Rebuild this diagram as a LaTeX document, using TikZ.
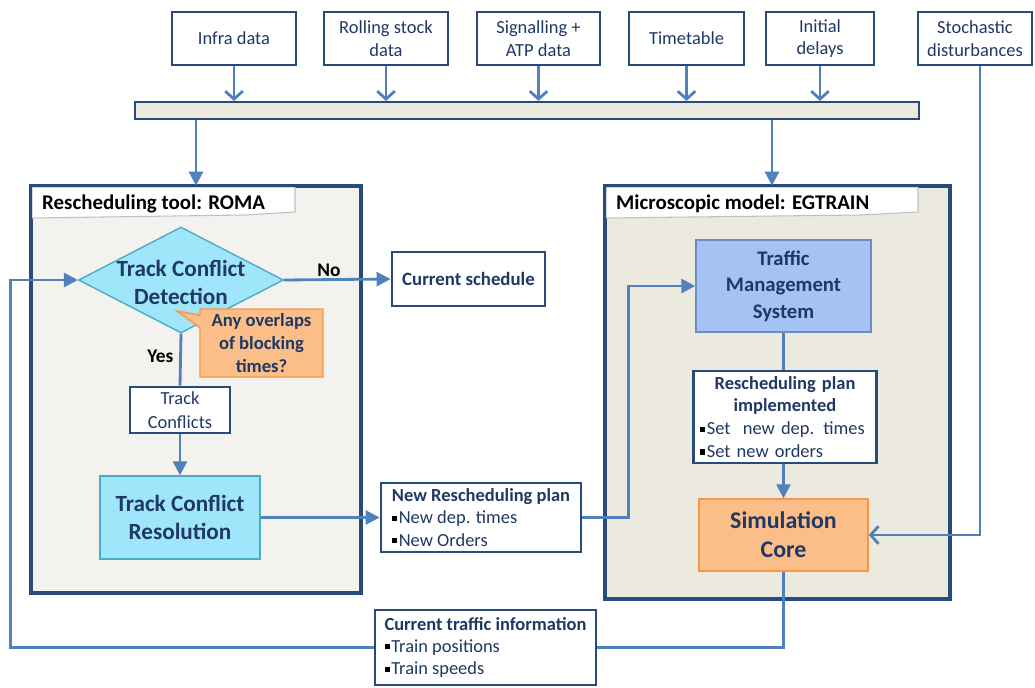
\documentclass[tikz,border=0pt]{standalone}
\usepackage{fontspec}
\setmainfont{Carlito}
\usepackage{tikz}
\usetikzlibrary{arrows.meta,shapes.geometric,shapes.callouts}
\definecolor{framecol}{HTML}{274B7A}
\definecolor{linecol}{HTML}{4F81BD}
\definecolor{textcol}{HTML}{1F3864}
\definecolor{cyanfill}{HTML}{A0E6FA}
\definecolor{cyanline}{HTML}{4BACC6}
\definecolor{bluefill}{HTML}{A4C2F4}
\definecolor{blueline}{HTML}{6C8EBF}
\definecolor{orangefill}{HTML}{FBBE88}
\definecolor{orangeline}{HTML}{F79646}
\definecolor{romafill}{HTML}{F3F2EE}
\definecolor{egtfill}{HTML}{ECE9DF}
\newcommand{\blt}{\raisebox{0.35ex}{\textcolor{black}{\rule{2.9pt}{2.9pt}}}\hspace{1pt}}

\begin{document}
\begin{tikzpicture}[x=0.02cm,y=-0.02cm,
  data box/.style={draw=framecol,line width=1.6pt,fill=white,text=textcol,align=center,inner sep=0pt,font=\fontsize{10.5}{13}\selectfont},
  info box/.style={data box,align=left},
  frame/.style={draw=framecol,line width=1.6pt},
  tab/.style={fill=white,draw=gray!50,line width=0.6pt},
  big text/.style={text=textcol,align=center,inner sep=0pt,font=\bfseries\fontsize{13.2}{16.4}\selectfont},
  label/.style={font=\bfseries\fontsize{11}{13}\selectfont},
  flow/.style={draw=linecol,line width=1.6pt,-{Triangle[length=8pt,width=8pt]}},
  feed/.style={draw=linecol,line width=1.6pt,-{Straight Barb[length=4.5pt,width=10pt]}},
  line/.style={draw=linecol,line width=1.6pt}]

  \useasboundingbox (0,0) rectangle (1035,687);

  % input data
  \node[data box,minimum width=2.48cm,minimum height=1.06cm] (infra) at (234,38.5) {Infra data};
  \node[data box,minimum width=2.48cm,minimum height=1.06cm] (rolling) at (386,38.5) {Rolling stock\\data};
  \node[data box,minimum width=2.46cm,minimum height=1.06cm] (signal) at (538.5,38.5) {Signalling +\\ATP data};
  \node[data box,minimum width=2.30cm,minimum height=1.06cm] (timetab) at (686.5,38.5) {Timetable};
  \node[data box,minimum width=2.16cm,minimum height=1.06cm] (delays) at (820,38.5) {Initial\\delays};
  \node[data box,minimum width=2.28cm,minimum height=1.06cm] (stoch) at (975,38.5) {Stochastic\\disturbances};
  \node[draw=framecol,line width=1.2pt,fill=egtfill,minimum width=15.68cm,minimum height=0.34cm,inner sep=0pt] (bar) at (527,110.5) {};

  % ROMA
  \node[frame,fill=romafill,minimum width=6.56cm,minimum height=8.1cm,inner sep=0pt] (roma) at (196,389.5) {};
  \draw[tab] (32,187) -- (295,187) -- (295,212) -- (245,215) -- (32,218) -- cycle;
  \draw[frame] (roma.north west) rectangle (roma.south east);
  \node[label,anchor=west,font=\bfseries\fontsize{11.9}{13}\selectfont] (romatitle) at (36,204) {Rescheduling tool: ROMA};

  % EGTRAIN
  \node[frame,fill=egtfill,minimum width=6.86cm,minimum height=8.22cm,inner sep=0pt] (egt) at (777.5,392.5) {};
  \draw[tab] (606,187) -- (918,187) -- (918,212) -- (860,215) -- (606,218) -- cycle;
  \draw[frame] (egt.north west) rectangle (egt.south east);
  \node[label,anchor=west,font=\bfseries\fontsize{11.9}{13}\selectfont] (egttitle) at (610,204) {Microscopic model: EGTRAIN};

  \node[diamond,draw=cyanline,line width=0.8pt,fill=cyanfill,minimum width=4.1cm,minimum height=2.12cm,inner sep=0pt] (det) at (181,280) {};
  \node[big text] (dettext) at (181,282.5) {Track Conflict\\Detection};
  \node[data box,minimum width=2cm,minimum height=0.92cm,font=\fontsize{10.5}{13.6}\selectfont] (tc) at (180,410) {Track\\Conflicts};
  \node[draw=cyanline,fill=cyanfill,line width=0.8pt,minimum width=3.2cm,minimum height=1.66cm,big text,font=\bfseries\fontsize{13.2}{16}\selectfont] (res) at (180,517.5) {Track Conflict\\Resolution};
  \node[rectangle callout,draw=orangeline,fill=orangefill,line width=0.8pt,minimum width=2.46cm,minimum height=1.36cm,inner sep=0pt,
    text=textcol,align=center,font=\bfseries\fontsize{10.6}{13}\selectfont,callout absolute pointer={(177,311)}] (ask) at (261.5,343) {Any overlaps\\of blocking\\times?};

  \node[data box,minimum width=3.06cm,minimum height=1.08cm,font=\bfseries\fontsize{10.7}{13}\selectfont] (cur) at (468.5,279) {Current schedule};
  \node[info box,minimum width=4cm,minimum height=1.38cm,font=\fontsize{10.5}{12.8}\selectfont] (plan) at (481,517.5) {\textbf{New Rescheduling plan}\\\blt New dep. times\\\blt New Orders};

  \node[draw=blueline,fill=bluefill,line width=0.8pt,minimum width=3.5cm,minimum height=1.84cm,inner sep=0pt,text=textcol,align=center,
    font=\bfseries\fontsize{11.8}{15}\selectfont] (tms) at (783.5,286) {Traffic\\Management\\System};
  \node[data box,minimum width=3.66cm,minimum height=1.84cm,align=left,text width=3.4cm] (impl) at (785,417)
    {\makebox[3.4cm]{\bfseries Rescheduling plan}\\\makebox[3.4cm]{\bfseries implemented}\\\blt Set~ new dep. times\\\blt Set new orders};
  \node[draw=orangeline,fill=orangefill,line width=0.8pt,minimum width=3.38cm,minimum height=1.44cm,big text,font=\bfseries\fontsize{13.6}{16.4}\selectfont] (sim) at (783.5,535) {Simulation\\Core};
  \node[info box,minimum width=4.42cm,minimum height=1.5cm,font=\fontsize{10.5}{12.8}\selectfont] (cti) at (485.5,647.5) {\textbf{Current traffic information}\\\blt Train positions\\\blt Train speeds};

  % connectors
  \foreach \n in {infra,rolling,signal,timetab,delays}
    \draw[feed] (\n.south) -- (\n.south |- bar.north);
  \coordinate (egtin) at ([xshift=-0.11cm]egt.north);
  \coordinate (stochout) at ([xshift=0.1cm]stoch.south);
  \draw[flow] (bar.south -| roma.north) -- (roma.north);
  \draw[flow] (egtin |- bar.south) -- (egtin);
  \draw[flow] (det.east) -- node[label,above,inner sep=1pt,pos=0.42] (no) {No} (cur.west);
  \draw[line] (det.south) -- node[label,left,pos=0.43] (yes) {Yes} (tc.north);
  \draw[flow] (tc.south) -- (res.north);
  \draw[flow] (res.east) -- (plan.west);
  \draw[flow] (plan.east) -- ++(46,0) |- (tms.west);
  \draw[line] (tms.south) -- (impl.north -| tms.south);
  \draw[flow] (impl.south -| sim.north) -- (sim.north);
  \draw[feed] (stochout) |- (sim.east);
  \draw[line] (sim.south) |- (cti.east);
  \draw[flow] (cti.west) -- ++(-363,0) |- (det.west);
\end{tikzpicture}
\end{document}
